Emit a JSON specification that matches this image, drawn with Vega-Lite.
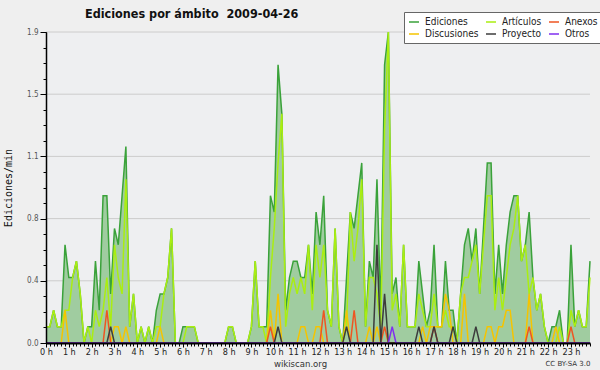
{
"$schema":"https://vega.github.io/schema/vega-lite/v6.json",
"width":544,"height":311,
"autosize":{"type":"none"},
"padding":{"left":46,"top":32,"right":10,"bottom":27},
"background":"#efefef",
"title":{"text":"Ediciones por ámbito \u00a02009-04-26","anchor":"start","frame":"group","dx":39,"dy":21,"offset":12,"font":"DejaVu Sans Condensed","fontWeight":"bold","fontSize":12.5,"color":"#111111"},
"config":{
 "view":{"fill":"#eeeff1","stroke":null},
 "legend":{"orient":"none","legendX":358,"legendY":-20,"direction":"horizontal","columns":3,"symbolType":"stroke","symbolStrokeWidth":1.5,"symbolSize":100,"labelFont":"DejaVu Sans Condensed","labelFontSize":10,"labelColor":"#222222","labelOffset":5,"rowPadding":1,"columnPadding":4,"padding":4,"fillColor":"#ffffff","strokeColor":"#666666"}
},
"datasets":{
"grid":[{"g":0.38},{"g":0.76},{"g":1.14},{"g":1.52},{"g":1.9}],
"m":[
{"t":0,"e":0.1,"a":0.1,"d":0,"n":0,"p":0,"o":0},
{"t":1,"e":0.1,"a":0.1,"d":0,"n":0,"p":0,"o":0},
{"t":2,"e":0.2,"a":0.2,"d":0,"n":0,"p":0,"o":0},
{"t":3,"e":0.1,"a":0.1,"d":0,"n":0,"p":0,"o":0},
{"t":4,"e":0.1,"a":0.1,"d":0,"n":0,"p":0,"o":0},
{"t":5,"e":0.6,"a":0.2,"d":0.2,"n":0,"p":0,"o":0},
{"t":6,"e":0.4,"a":0.2,"d":0,"n":0,"p":0,"o":0},
{"t":7,"e":0.4,"a":0.4,"d":0,"n":0,"p":0,"o":0},
{"t":8,"e":0.5,"a":0.5,"d":0,"n":0,"p":0,"o":0},
{"t":9,"e":0.3,"a":0.3,"d":0,"n":0,"p":0,"o":0},
{"t":10,"e":0,"a":0,"d":0,"n":0,"p":0,"o":0},
{"t":11,"e":0.1,"a":0.1,"d":0,"n":0,"p":0,"o":0},
{"t":12,"e":0.1,"a":0,"d":0,"n":0,"p":0,"o":0},
{"t":13,"e":0.5,"a":0.2,"d":0,"n":0,"p":0,"o":0},
{"t":14,"e":0.2,"a":0.1,"d":0,"n":0,"p":0,"o":0},
{"t":15,"e":0.9,"a":0.2,"d":0,"n":0,"p":0,"o":0},
{"t":16,"e":0.9,"a":0.4,"d":0,"n":0.2,"p":0,"o":0},
{"t":17,"e":0.3,"a":0.1,"d":0,"n":0,"p":0.1,"o":0},
{"t":18,"e":0.7,"a":0.6,"d":0.1,"n":0,"p":0,"o":0},
{"t":19,"e":0.6,"a":0.4,"d":0.1,"n":0,"p":0,"o":0},
{"t":20,"e":0.9,"a":0.3,"d":0,"n":0,"p":0,"o":0},
{"t":21,"e":1.2,"a":1.0,"d":0.1,"n":0,"p":0,"o":0},
{"t":22,"e":0.1,"a":0.1,"d":0,"n":0,"p":0,"o":0},
{"t":23,"e":0.3,"a":0.3,"d":0,"n":0,"p":0,"o":0},
{"t":24,"e":0,"a":0,"d":0,"n":0,"p":0,"o":0},
{"t":25,"e":0.1,"a":0.1,"d":0,"n":0,"p":0,"o":0},
{"t":26,"e":0,"a":0,"d":0,"n":0,"p":0,"o":0},
{"t":27,"e":0.1,"a":0.1,"d":0,"n":0,"p":0,"o":0},
{"t":28,"e":0,"a":0,"d":0,"n":0,"p":0,"o":0},
{"t":29,"e":0.2,"a":0.1,"d":0,"n":0,"p":0,"o":0},
{"t":30,"e":0.3,"a":0.1,"d":0.1,"n":0,"p":0,"o":0},
{"t":31,"e":0.3,"a":0.3,"d":0,"n":0,"p":0,"o":0},
{"t":32,"e":0.4,"a":0.4,"d":0,"n":0,"p":0,"o":0},
{"t":33,"e":0.7,"a":0.7,"d":0,"n":0,"p":0,"o":0},
{"t":34,"e":0,"a":0,"d":0,"n":0,"p":0,"o":0},
{"t":35,"e":0,"a":0,"d":0,"n":0,"p":0,"o":0},
{"t":36,"e":0.1,"a":0,"d":0,"n":0,"p":0,"o":0},
{"t":37,"e":0.1,"a":0.1,"d":0,"n":0,"p":0,"o":0},
{"t":38,"e":0.1,"a":0.1,"d":0,"n":0,"p":0,"o":0},
{"t":39,"e":0.1,"a":0.1,"d":0,"n":0,"p":0,"o":0},
{"t":40,"e":0,"a":0,"d":0,"n":0,"p":0,"o":0},
{"t":41,"e":0,"a":0,"d":0,"n":0,"p":0,"o":0},
{"t":42,"e":0,"a":0,"d":0,"n":0,"p":0,"o":0},
{"t":43,"e":0,"a":0,"d":0,"n":0,"p":0,"o":0},
{"t":44,"e":0,"a":0,"d":0,"n":0,"p":0,"o":0},
{"t":45,"e":0,"a":0,"d":0,"n":0,"p":0,"o":0},
{"t":46,"e":0,"a":0,"d":0,"n":0,"p":0,"o":0},
{"t":47,"e":0,"a":0,"d":0,"n":0,"p":0,"o":0},
{"t":48,"e":0.1,"a":0.1,"d":0,"n":0,"p":0,"o":0},
{"t":49,"e":0.1,"a":0.1,"d":0,"n":0,"p":0,"o":0},
{"t":50,"e":0,"a":0,"d":0,"n":0,"p":0,"o":0},
{"t":51,"e":0,"a":0,"d":0,"n":0,"p":0,"o":0},
{"t":52,"e":0,"a":0,"d":0,"n":0,"p":0,"o":0},
{"t":53,"e":0,"a":0,"d":0,"n":0,"p":0,"o":0},
{"t":54,"e":0.1,"a":0.1,"d":0,"n":0,"p":0,"o":0},
{"t":55,"e":0.5,"a":0.5,"d":0,"n":0,"p":0,"o":0},
{"t":56,"e":0.1,"a":0.1,"d":0,"n":0,"p":0,"o":0},
{"t":57,"e":0.1,"a":0.1,"d":0,"n":0,"p":0,"o":0},
{"t":58,"e":0.1,"a":0,"d":0,"n":0,"p":0,"o":0},
{"t":59,"e":0.9,"a":0.4,"d":0.2,"n":0.1,"p":0,"o":0},
{"t":60,"e":0.8,"a":0.7,"d":0,"n":0,"p":0,"o":0},
{"t":61,"e":1.7,"a":1.1,"d":0.3,"n":0,"p":0.1,"o":0},
{"t":62,"e":1.4,"a":1.4,"d":0,"n":0,"p":0,"o":0},
{"t":63,"e":0.2,"a":0.1,"d":0,"n":0,"p":0,"o":0},
{"t":64,"e":0.4,"a":0.3,"d":0,"n":0,"p":0,"o":0},
{"t":65,"e":0.5,"a":0.4,"d":0,"n":0,"p":0,"o":0},
{"t":66,"e":0.5,"a":0.3,"d":0,"n":0,"p":0,"o":0},
{"t":67,"e":0.4,"a":0.4,"d":0.1,"n":0,"p":0,"o":0},
{"t":68,"e":0.4,"a":0.3,"d":0.1,"n":0,"p":0,"o":0},
{"t":69,"e":0.6,"a":0.6,"d":0,"n":0,"p":0,"o":0},
{"t":70,"e":0.3,"a":0.2,"d":0,"n":0,"p":0,"o":0},
{"t":71,"e":0.8,"a":0.6,"d":0.1,"n":0,"p":0,"o":0},
{"t":72,"e":0.6,"a":0.4,"d":0.1,"n":0,"p":0,"o":0},
{"t":73,"e":0.9,"a":0.6,"d":0,"n":0.2,"p":0,"o":0},
{"t":74,"e":0.2,"a":0.2,"d":0,"n":0,"p":0,"o":0},
{"t":75,"e":0.1,"a":0.1,"d":0,"n":0,"p":0,"o":0},
{"t":76,"e":0.7,"a":0.7,"d":0,"n":0,"p":0,"o":0},
{"t":77,"e":0.1,"a":0.1,"d":0,"n":0,"p":0,"o":0},
{"t":78,"e":0,"a":0,"d":0,"n":0,"p":0,"o":0},
{"t":79,"e":0.4,"a":0.1,"d":0.2,"n":0,"p":0.1,"o":0},
{"t":80,"e":0.8,"a":0.8,"d":0,"n":0,"p":0,"o":0},
{"t":81,"e":0.7,"a":0.5,"d":0,"n":0.2,"p":0,"o":0},
{"t":82,"e":0.9,"a":0.7,"d":0,"n":0,"p":0,"o":0},
{"t":83,"e":1.1,"a":1.0,"d":0,"n":0,"p":0,"o":0},
{"t":84,"e":0.1,"a":0.1,"d":0,"n":0,"p":0,"o":0},
{"t":85,"e":0.5,"a":0.4,"d":0.1,"n":0,"p":0,"o":0},
{"t":86,"e":0.4,"a":0.4,"d":0,"n":0,"p":0,"o":0},
{"t":87,"e":1.0,"a":0.3,"d":0.1,"n":0,"p":0.6,"o":0},
{"t":88,"e":0.2,"a":0.1,"d":0,"n":0,"p":0,"o":0},
{"t":89,"e":1.7,"a":1.3,"d":0,"n":0.1,"p":0.3,"o":0},
{"t":90,"e":1.9,"a":1.9,"d":0,"n":0,"p":0,"o":0},
{"t":91,"e":0.3,"a":0.2,"d":0,"n":0,"p":0,"o":0.1},
{"t":92,"e":0.4,"a":0.3,"d":0,"n":0,"p":0,"o":0},
{"t":93,"e":0.1,"a":0.1,"d":0,"n":0,"p":0,"o":0},
{"t":94,"e":0.6,"a":0.6,"d":0,"n":0,"p":0,"o":0},
{"t":95,"e":0.1,"a":0.1,"d":0,"n":0,"p":0,"o":0},
{"t":96,"e":0.1,"a":0.1,"d":0,"n":0,"p":0,"o":0},
{"t":97,"e":0.1,"a":0.1,"d":0,"n":0,"p":0,"o":0},
{"t":98,"e":0.5,"a":0.3,"d":0,"n":0,"p":0.1,"o":0},
{"t":99,"e":0.3,"a":0.2,"d":0.1,"n":0,"p":0,"o":0},
{"t":100,"e":0.1,"a":0.1,"d":0,"n":0,"p":0,"o":0},
{"t":101,"e":0.2,"a":0.1,"d":0.1,"n":0,"p":0,"o":0},
{"t":102,"e":0.6,"a":0.3,"d":0.1,"n":0.1,"p":0.1,"o":0},
{"t":103,"e":0.1,"a":0.1,"d":0.1,"n":0,"p":0,"o":0},
{"t":104,"e":0.1,"a":0.1,"d":0.1,"n":0,"p":0,"o":0},
{"t":105,"e":0.5,"a":0.2,"d":0.3,"n":0,"p":0,"o":0},
{"t":106,"e":0.2,"a":0.1,"d":0.2,"n":0,"p":0,"o":0},
{"t":107,"e":0.2,"a":0.1,"d":0,"n":0,"p":0.1,"o":0},
{"t":108,"e":0,"a":0,"d":0,"n":0,"p":0,"o":0},
{"t":109,"e":0.3,"a":0.3,"d":0,"n":0,"p":0,"o":0},
{"t":110,"e":0.6,"a":0.4,"d":0.3,"n":0,"p":0,"o":0},
{"t":111,"e":0.7,"a":0.4,"d":0,"n":0,"p":0,"o":0},
{"t":112,"e":0.5,"a":0.5,"d":0,"n":0,"p":0,"o":0},
{"t":113,"e":0.7,"a":0.6,"d":0,"n":0,"p":0.1,"o":0},
{"t":114,"e":0.3,"a":0.3,"d":0,"n":0,"p":0,"o":0},
{"t":115,"e":0.7,"a":0.6,"d":0,"n":0,"p":0,"o":0},
{"t":116,"e":1.1,"a":0.9,"d":0.1,"n":0,"p":0,"o":0},
{"t":117,"e":1.1,"a":0.9,"d":0.1,"n":0,"p":0,"o":0},
{"t":118,"e":0.3,"a":0.2,"d":0,"n":0,"p":0,"o":0},
{"t":119,"e":0.6,"a":0.4,"d":0.1,"n":0,"p":0,"o":0},
{"t":120,"e":0.3,"a":0.2,"d":0.1,"n":0,"p":0,"o":0},
{"t":121,"e":0.6,"a":0.4,"d":0.2,"n":0,"p":0,"o":0},
{"t":122,"e":0.8,"a":0.6,"d":0.2,"n":0,"p":0,"o":0},
{"t":123,"e":0.9,"a":0.7,"d":0,"n":0,"p":0,"o":0},
{"t":124,"e":0.9,"a":0.9,"d":0,"n":0,"p":0,"o":0},
{"t":125,"e":0.5,"a":0.5,"d":0,"n":0,"p":0,"o":0},
{"t":126,"e":0.6,"a":0.6,"d":0,"n":0,"p":0,"o":0},
{"t":127,"e":0.8,"a":0.3,"d":0.3,"n":0.1,"p":0,"o":0},
{"t":128,"e":0.4,"a":0.4,"d":0,"n":0,"p":0,"o":0},
{"t":129,"e":0.2,"a":0.2,"d":0,"n":0,"p":0,"o":0},
{"t":130,"e":0.3,"a":0.3,"d":0,"n":0,"p":0,"o":0},
{"t":131,"e":0.1,"a":0.1,"d":0,"n":0,"p":0,"o":0},
{"t":132,"e":0,"a":0,"d":0,"n":0,"p":0,"o":0},
{"t":133,"e":0.1,"a":0,"d":0,"n":0,"p":0,"o":0},
{"t":134,"e":0.1,"a":0,"d":0.1,"n":0,"p":0,"o":0},
{"t":135,"e":0.2,"a":0.1,"d":0,"n":0,"p":0,"o":0},
{"t":136,"e":0,"a":0,"d":0,"n":0,"p":0,"o":0},
{"t":137,"e":0,"a":0,"d":0,"n":0,"p":0,"o":0},
{"t":138,"e":0.6,"a":0.2,"d":0,"n":0.1,"p":0,"o":0},
{"t":139,"e":0.1,"a":0.1,"d":0,"n":0,"p":0,"o":0},
{"t":140,"e":0.2,"a":0.2,"d":0,"n":0,"p":0,"o":0},
{"t":141,"e":0.1,"a":0.1,"d":0,"n":0,"p":0,"o":0},
{"t":142,"e":0.1,"a":0.1,"d":0,"n":0,"p":0,"o":0},
{"t":143,"e":0.5,"a":0.4,"d":0,"n":0,"p":0,"o":0}
]},
"data":{"name":"m"},
"resolve":{"axis":{"x":"independent","y":"independent"}},
"layer":[
{"data":{"name":"grid"},
 "mark":{"type":"rule","color":"#cccccc","strokeWidth":1},
 "encoding":{"y":{"field":"g","type":"quantitative","scale":{"domain":[0,1.9],"nice":false,"zero":true},
  "axis":{"orient":"left","values":[0,0.095,0.19,0.285,0.38,0.475,0.57,0.665,0.76,0.855,0.95,1.045,1.14,1.235,1.33,1.425,1.52,1.615,1.71,1.805,1.9],"labels":false,"domain":false,"grid":false,"ticks":true,"tickSize":3,"tickColor":"#000000","tickWidth":1,"title":null,"zindex":1}}}},
{"mark":{"type":"area","color":"#a0cca0","interpolate":"linear"},
 "encoding":{
  "x":{"field":"t","type":"quantitative","scale":{"domain":[0,143],"nice":false,"zero":false},
   "axis":{"orient":"bottom","values":[0,6,12,18,24,30,36,42,48,54,60,66,72,78,84,90,96,102,108,114,120,126,132,138],"labelExpr":"floor(datum.value/6) + ' h'","tickSize":4,"tickColor":"#000000","domainColor":"#000000","domainWidth":2,"labelFont":"DejaVu Sans Condensed","labelFontSize":9,"labelColor":"#222222","labelPadding":0,"labelDx":-2,"labelFlush":false,"labelOverlap":false,"grid":false,"title":"wikiscan.org","titleFont":"DejaVu Sans Condensed","titleFontSize":9.5,"titleFontWeight":"normal","titleColor":"#333333","titleX":254,"titleY":23,"titleAlign":"center","titleBaseline":"alphabetic","zindex":1}},
  "y":{"field":"e","type":"quantitative",
   "axis":{"orient":"left","values":[0,0.38,0.76,1.14,1.52,1.9],"format":".1f","tickSize":6,"tickColor":"#000000","domainColor":"#000000","domainWidth":1.5,"labelFont":"DejaVu Sans Condensed","labelFontSize":8,"labelColor":"#555555","labelPadding":2,"grid":false,"title":"Ediciones/min","titleFont":"DejaVu Sans Mono","titleFontSize":10,"titleFontWeight":"normal","titleColor":"#111111","titlePadding":13,"zindex":1}}}},
{"transform":[{"fold":["e","a","d","n","p","o"],"as":["k","v"]}],
 "mark":{"type":"line","strokeWidth":1.5,"interpolate":"linear"},
 "encoding":{
  "x":{"field":"t","type":"quantitative",
   "axis":{"orient":"bottom","tickCount":143,"labels":false,"domain":false,"grid":false,"tickSize":3,"tickColor":"#000000","title":"CC BY-SA 3.0","titleFont":"DejaVu Sans","titleFontSize":7,"titleFontWeight":"normal","titleColor":"#333333","titleX":544,"titleY":22,"titleAlign":"right","titleBaseline":"alphabetic","zindex":1}},
  "y":{"field":"v","type":"quantitative","axis":null},
  "color":{"field":"k","type":"nominal",
   "scale":{"domain":["e","a","n","d","p","o"],"range":["#3aa23a","#aaee11","#ee5522","#f5c400","#3c3c3c","#7f2fef"]},
   "legend":{"title":null,"labelExpr":"datum.label == 'e' ? 'Ediciones' : datum.label == 'a' ? 'Artículos' : datum.label == 'n' ? 'Anexos' : datum.label == 'd' ? 'Discusiones' : datum.label == 'p' ? 'Proyecto' : 'Otros'"}}}}
]
}
